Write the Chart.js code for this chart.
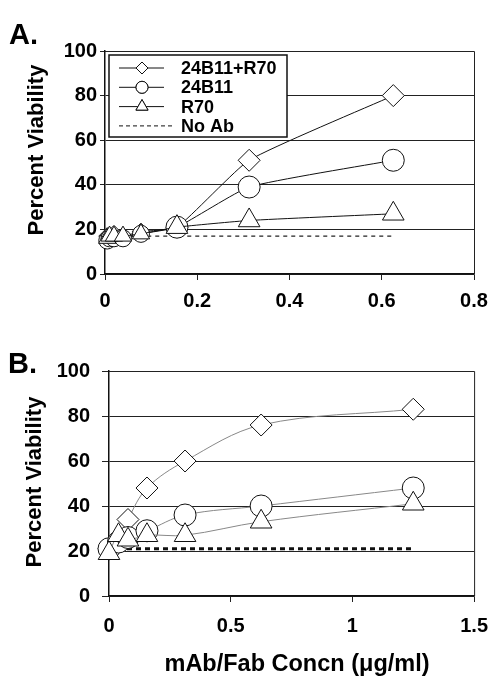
<!DOCTYPE html>
<html>
<head>
<meta charset="utf-8">
<script src="https://cdn.jsdelivr.net/npm/chart.js@4"></script>
<style>
  body { margin: 0; background: #fff; }
  #wrap { position: relative; width: 500px; height: 688px; }
  .panel { position: absolute; left: 0; width: 500px; }
  canvas { display: block; }
</style>
</head>
<body>
<div id="wrap">
  <div class="panel" style="top:0;height:320px"><canvas id="chartA"></canvas></div>
  <div class="panel" style="top:320px;height:368px"><canvas id="chartB"></canvas></div>
</div>
<script>
// panel A (whole mAb)
const concA = [0.0049, 0.0098, 0.0195, 0.039, 0.078, 0.156, 0.3125, 0.625];
const comboA = [17, 17, 18, 17, 19, 21, 51, 80];
const b11A = [15, 16, 16, 16, 18, 21, 39, 51];
const r70A = [16, 17, 17, 17, 18, 21, 24, 27];
const noAbA = [17, 17, 17, 17, 17, 17, 17, 17];

// panel B (Fab)
const concB = [0, 0.039, 0.078, 0.156, 0.3125, 0.625, 1.25];
const comboB = [21, 24, 34, 48, 60, 76, 83];
const b11B = [21, 24, 26, 29, 36, 40, 48];
const r70B = [19, 27, 25, 27, 27, 33, 41];
const noAbB = [21, 21, 21, 21, 21, 21, 21];

const seriesNames = ['24B11+R70', '24B11', 'R70', 'No Ab'];
const yTicks = [0, 20, 40, 60, 80, 100];
const xTicksA = [0, 0.2, 0.4, 0.6, 0.8];
const xTicksB = [0, 0.5, 1, 1.5];

const FONT = '"Liberation Sans", Arial, sans-serif';

function pts(xs, ys) {
  return xs.map((x, i) => ({ x: x, y: ys[i] }));
}

function markerSet(xs, ys, name, style, color, tension, order, smallBelow) {
  const big = style === 'triangle' ? 12.5 : 11;
  const small = style === 'triangle' ? 10 : 8.5;
  return {
    label: name,
    data: pts(xs, ys),
    showLine: true,
    borderColor: color,
    borderWidth: 1,
    tension: tension,
    pointStyle: style,
    pointRadius: c => (c.raw && c.raw.x < smallBelow ? small : big),
    pointBackgroundColor: '#fff',
    pointBorderColor: '#111',
    pointBorderWidth: 1,
    clip: false,
    order: order
  };
}

// draws frame, panel letter, axis titles and (for A) the legend box
const decor = {
  id: 'decor',
  afterDraw(chart, args, opts) {
    const ctx = chart.ctx;
    const a = chart.chartArea;
    ctx.save();
    ctx.strokeStyle = '#222';
    ctx.lineWidth = 1;
    ctx.beginPath();
    ctx.moveTo(a.left, a.top + 0.5);
    ctx.lineTo(a.right + 0.5, a.top + 0.5);
    ctx.lineTo(a.right + 0.5, a.bottom);
    ctx.stroke();

    ctx.fillStyle = '#000';
    ctx.font = 'bold 29px ' + FONT;
    ctx.textAlign = 'left';
    ctx.textBaseline = 'alphabetic';
    ctx.fillText(opts.letter, opts.letterX, opts.letterY);

    ctx.font = 'bold 22px ' + FONT;
    ctx.textAlign = 'center';
    ctx.textBaseline = 'middle';
    ctx.save();
    ctx.translate(opts.yTitleX, opts.yTitleY);
    ctx.rotate(-Math.PI / 2);
    ctx.fillText('Percent Viability', 0, 0);
    ctx.restore();

    if (opts.xTitle) {
      ctx.font = 'bold 23.5px ' + FONT;
      ctx.fillText(opts.xTitle, opts.xTitleX, opts.xTitleY);
    }

    if (opts.legend) {
      const L = opts.legend;
      ctx.fillStyle = '#fff';
      ctx.fillRect(L.x, L.y, L.w, L.h);
      ctx.strokeStyle = '#111';
      ctx.lineWidth = 1.5;
      ctx.strokeRect(L.x, L.y, L.w, L.h);
      const styles = ['rectRot', 'circle', 'triangle', null];
      seriesNames.forEach((name, i) => {
        const yy = L.y + 13 + i * 19.3;
        ctx.strokeStyle = '#111';
        ctx.lineWidth = 1;
        if (styles[i]) {
          ctx.setLineDash([]);
          ctx.beginPath();
          ctx.moveTo(L.x + 10, yy);
          ctx.lineTo(L.x + 55, yy);
          ctx.stroke();
          ctx.fillStyle = '#fff';
          Chart.helpers.drawPoint(ctx, { pointStyle: styles[i], radius: styles[i] === 'triangle' ? 7 : 6, borderWidth: 1 }, L.x + 33, yy);
          ctx.fill();
          ctx.stroke();
        } else {
          ctx.setLineDash([4, 3]);
          ctx.beginPath();
          ctx.moveTo(L.x + 10, yy);
          ctx.lineTo(L.x + 64, yy);
          ctx.stroke();
          ctx.setLineDash([]);
        }
        ctx.fillStyle = '#000';
        ctx.font = 'bold 18px ' + FONT;
        ctx.textAlign = 'left';
        ctx.textBaseline = 'middle';
        ctx.fillText(name, L.x + 72, yy + 1);
      });
    }
    ctx.restore();
  }
};

function makeOptions(xMax, xTicks, yWidth, xHeight, padRight, yTickLen, yPad, xPad, decorOpts) {
  return {
    responsive: false,
    animation: false,
    layout: { padding: { left: 0, right: padRight, top: 51, bottom: 0 } },
    plugins: { legend: { display: false }, tooltip: { enabled: false }, decor: decorOpts },
    scales: {
      x: {
        type: 'linear',
        min: 0, max: xMax,
        afterFit: s => { s.height = xHeight; },
        afterBuildTicks: s => { s.ticks = xTicks.map(v => ({ value: v })); },
        ticks: {
          color: '#000', padding: xPad,
          font: { family: FONT, size: 20, weight: 'bold' },
          callback: v => String(v)
        },
        grid: { drawOnChartArea: false, drawTicks: true, tickLength: 6, color: '#222' },
        border: { color: '#111', width: 1.5 }
      },
      y: {
        min: 0, max: 100,
        afterFit: s => { s.width = yWidth; },
        afterBuildTicks: s => { s.ticks = yTicks.map(v => ({ value: v })); },
        ticks: { color: '#000', padding: yPad, font: { family: FONT, size: 20, weight: 'bold' } },
        grid: { color: '#222', lineWidth: 1, tickLength: yTickLen },
        border: { color: '#111', width: 1.5 }
      }
    }
  };
}

const ctxA = document.getElementById('chartA');
ctxA.width = 500; ctxA.height = 320;
new Chart(ctxA, {
  type: 'scatter',
  data: {
    datasets: [
      markerSet(concA, comboA, seriesNames[0], 'rectRot', '#111', 0.15, 3, 0.1),
      markerSet(concA, b11A, seriesNames[1], 'circle', '#111', 0.15, 2, 0.1),
      markerSet(concA, r70A, seriesNames[2], 'triangle', '#111', 0.15, 1, 0.1),
      {
        label: seriesNames[3], data: pts(concA, noAbA), showLine: true,
        borderColor: '#222', borderWidth: 1.2, borderDash: [4, 4], pointRadius: 0, order: 5
      }
    ]
  },
  options: makeOptions(0.8, xTicksA, 105, 46, 26, 5, 3, 9, {
    letter: 'A.', letterX: 9, letterY: 44,
    yTitleX: 37, yTitleY: 150,
    legend: { x: 109, y: 55, w: 178, h: 82 }
  }),
  plugins: [decor]
});

const ctxB = document.getElementById('chartB');
ctxB.width = 500; ctxB.height = 368;
new Chart(ctxB, {
  type: 'scatter',
  data: {
    datasets: [
      markerSet(concB, comboB, seriesNames[0], 'rectRot', '#888', 0.35, 3, 0),
      markerSet(concB, b11B, seriesNames[1], 'circle', '#888', 0.35, 2, 0),
      markerSet(concB, r70B, seriesNames[2], 'triangle', '#888', 0.35, 1, 0),
      {
        label: seriesNames[3], data: pts(concB, noAbB), showLine: true,
        borderColor: '#111', borderWidth: 3, borderDash: [5, 4], pointRadius: 0, order: 5
      }
    ]
  },
  options: makeOptions(1.5, xTicksB, 109, 92, 23, 7, 12, 12, {
    letter: 'B.', letterX: 8, letterY: 53,
    yTitleX: 35, yTitleY: 162,
    xTitle: 'mAb/Fab Concn (\u03bcg/ml)', xTitleX: 297, xTitleY: 345
  }),
  plugins: [decor]
});
</script>
</body>
</html>
